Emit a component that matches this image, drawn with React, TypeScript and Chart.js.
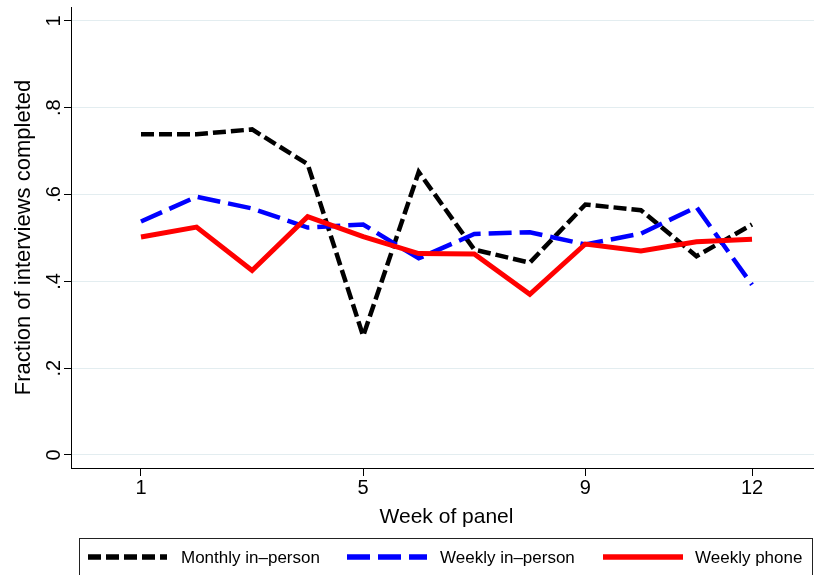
import React, { useEffect, useRef } from "react";
import { Chart, registerables } from "chart.js";

Chart.register(...registerables);

const weeks = [1, 2, 3, 4, 5, 6, 7, 8, 9, 10, 11, 12];
const monthlyInPerson = [0.739, 0.739, 0.75, 0.67, 0.274, 0.652, 0.473, 0.443, 0.577, 0.564, 0.458, 0.531];
const weeklyInPerson = [0.538, 0.595, 0.568, 0.524, 0.531, 0.453, 0.509, 0.513, 0.485, 0.51, 0.571, 0.392];
const weeklyPhone = [0.502, 0.525, 0.425, 0.549, 0.503, 0.464, 0.463, 0.37, 0.486, 0.47, 0.491, 0.497];
const xTickValues = [1, 5, 9, 12];
const yTickValues = [0, 0.2, 0.4, 0.6, 0.8, 1];
const yTickLabels = ["0", ".2", ".4", ".6", ".8", "1"];
const seriesLabels = ["Monthly in\u2013person", "Weekly in\u2013person", "Weekly phone"];

const FONT = "'Liberation Sans', Arial, Helvetica, sans-serif";

const legendPlugin = {
  id: "boxLegend",
  afterDraw(chart: any) {
    const ctx = chart.ctx as CanvasRenderingContext2D;
    ctx.save();
    ctx.strokeStyle = "#222";
    ctx.lineWidth = 1;
    ctx.setLineDash([]);
    ctx.strokeRect(79.5, 538.5, 733, 60);
    const slots = [
      { x0: 88, x1: 167, tx: 181 },
      { x0: 347, x1: 427, tx: 440 },
      { x0: 603, x1: 683, tx: 695 },
    ];
    const cy = 557;
    chart.data.datasets.forEach((ds: any, i: number) => {
      const s = slots[i];
      ctx.save();
      ctx.strokeStyle = ds.borderColor;
      ctx.lineWidth = 5.5;
      ctx.lineCap = "butt";
      ctx.setLineDash(ds.borderDash || []);
      ctx.beginPath();
      ctx.moveTo(s.x0, cy);
      ctx.lineTo(s.x1, cy);
      ctx.stroke();
      ctx.restore();
      ctx.fillStyle = "#000";
      ctx.font = `17px ${FONT}`;
      ctx.textBaseline = "middle";
      ctx.textAlign = "left";
      ctx.fillText(ds.label, s.tx, cy + 1);
    });
    ctx.restore();
  },
};

export default function App() {
  const ref = useRef<HTMLCanvasElement>(null);
  useEffect(() => {
    const chart = new Chart(ref.current!, {
      type: "line",
      data: {
        datasets: [
          {
            label: seriesLabels[0],
            data: weeks.map((w, i) => ({ x: w, y: monthlyInPerson[i] })),
            borderColor: "#000000",
            borderWidth: 4.5,
            borderDash: [13, 5],
            order: 2,
            pointRadius: 0,
            tension: 0,
            fill: false,
          },
          {
            label: seriesLabels[1],
            data: weeks.map((w, i) => ({ x: w, y: weeklyInPerson[i] })),
            borderColor: "#0000ff",
            borderWidth: 4.5,
            borderDash: [23, 8],
            order: 1,
            pointRadius: 0,
            tension: 0,
            fill: false,
          },
          {
            label: seriesLabels[2],
            data: weeks.map((w, i) => ({ x: w, y: weeklyPhone[i] })),
            borderColor: "#ff0000",
            borderWidth: 5,
            order: 0,
            pointRadius: 0,
            tension: 0,
            fill: false,
          },
        ],
      },
      options: {
        responsive: false,
        maintainAspectRatio: false,
        animation: false,
        layout: { padding: { left: 0, top: 7, right: 18, bottom: 45 } },
        plugins: {
          legend: { display: false },
          tooltip: { enabled: false },
          title: { display: false },
        },
        scales: {
          x: {
            type: "linear",
            min: -0.26,
            max: 13.26,
            afterBuildTicks: (s: any) => {
              s.ticks = xTickValues.map((v) => ({ value: v }));
            },
            afterFit: (s: any) => {
              s.height = 62;
              s.paddingLeft = 0;
              s.paddingRight = 0;
            },
            grid: { drawOnChartArea: false, drawTicks: true, tickLength: 8, tickColor: "#000", tickWidth: 1 },
            border: { display: true, color: "#000", width: 1 },
            ticks: {
              color: "#000",
              font: { family: FONT, size: 20 },
              padding: 0,
              minRotation: 0,
              maxRotation: 0,
              autoSkip: false,
              callback: (v: any) => String(v),
            },
            title: {
              display: true,
              text: "Week of panel",
              color: "#000",
              font: { family: FONT, size: 21 },
              padding: { top: 0, bottom: 0 },
            },
          },
          y: {
            type: "linear",
            min: -0.03,
            max: 1.032,
            afterBuildTicks: (s: any) => {
              s.ticks = yTickValues.map((v) => ({ value: v }));
            },
            afterFit: (s: any) => {
              s.width = 71;
              s.paddingTop = 0;
              s.paddingBottom = 0;
            },
            grid: { color: "#e3edf0", lineWidth: 1, drawTicks: true, tickLength: 7, tickColor: "#000", tickWidth: 1 },
            border: { display: true, color: "#000", width: 1 },
            ticks: {
              color: "#000",
              font: { family: FONT, size: 20 },
              padding: 1,
              minRotation: 90,
              maxRotation: 90,
              crossAlign: "center",
              autoSkip: false,
              callback: (v: any) => {
                const idx = yTickValues.indexOf(Number(v));
                return idx >= 0 ? yTickLabels[idx] : "";
              },
            },
            title: {
              display: true,
              text: "Fraction of interviews completed",
              color: "#000",
              font: { family: FONT, size: 22 },
              padding: { top: 11, bottom: 0 },
            },
          },
        },
      },
      plugins: [legendPlugin],
    } as any);
    return () => chart.destroy();
  }, []);
  return (
    <div style={{ position: "fixed", left: 0, top: 0, width: 814, height: 575, overflow: "hidden", background: "#fff" }}>
      <canvas ref={ref} width={840} height={575} style={{ display: "block", width: 840, height: 575 }} />
    </div>
  );
}
